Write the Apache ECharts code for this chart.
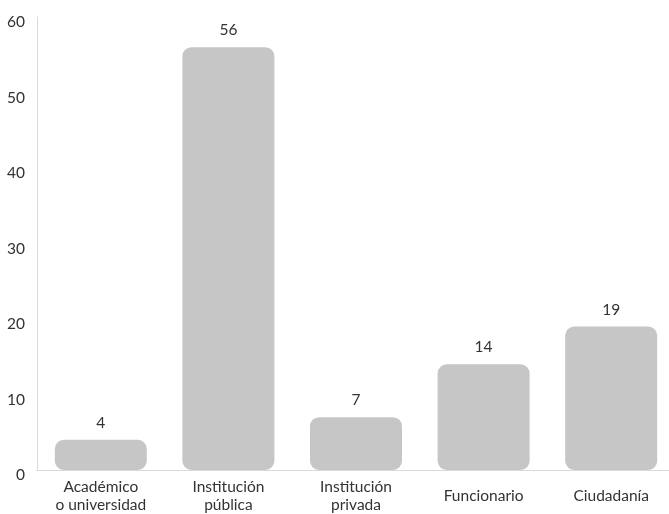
<!DOCTYPE html>
<html><head><meta charset="utf-8">
<script src="https://cdn.jsdelivr.net/npm/echarts@6/dist/echarts.min.js"></script>
<style>html,body{margin:0;padding:0;background:#fff;overflow:hidden}#c{width:675px;height:514px}</style>
</head><body><div id="c"></div>
<script>
const categories = ['Académico\no universidad', 'Institución\npública', 'Institución\nprivada', 'Funcionario', 'Ciudadanía'];
const values = [4, 56, 7, 14, 19];
const yTicks = [0, 10, 20, 30, 40, 50, 60];

const chart = echarts.init(document.getElementById('c'));
chart.setOption({
  animation: false,
  grid: { left: 37, top: 17, bottom: 44, right: 0 },
  xAxis: {
    type: 'category',
    data: categories,
    axisLine: { lineStyle: { color: '#d9d9d9', width: 1 } },
    axisTick: { show: false },
    axisLabel: { color: '#333', fontFamily: 'Lato', fontSize: 15.5, margin: 26, verticalAlign: 'middle', lineHeight: 18, interval: 0 }
  },
  yAxis: {
    type: 'value', min: yTicks[0], max: yTicks[yTicks.length - 1], interval: 10,
    splitLine: { show: false },
    axisLine: { show: true, lineStyle: { color: '#d9d9d9', width: 1 } },
    axisTick: { show: false },
    axisLabel: { color: '#333', fontFamily: 'Lato', fontSize: 15.5, margin: 12, verticalAlign: 'top', lineHeight: 10 }
  },
  series: [{
    type: 'bar',
    data: values,
    barWidth: 92,
    itemStyle: { color: '#c6c6c6', borderRadius: 9 },
    label: { show: true, position: 'top', distance: 9, color: '#333', fontFamily: 'Lato', fontSize: 15.5 }
  }]
});
</script></body></html>
